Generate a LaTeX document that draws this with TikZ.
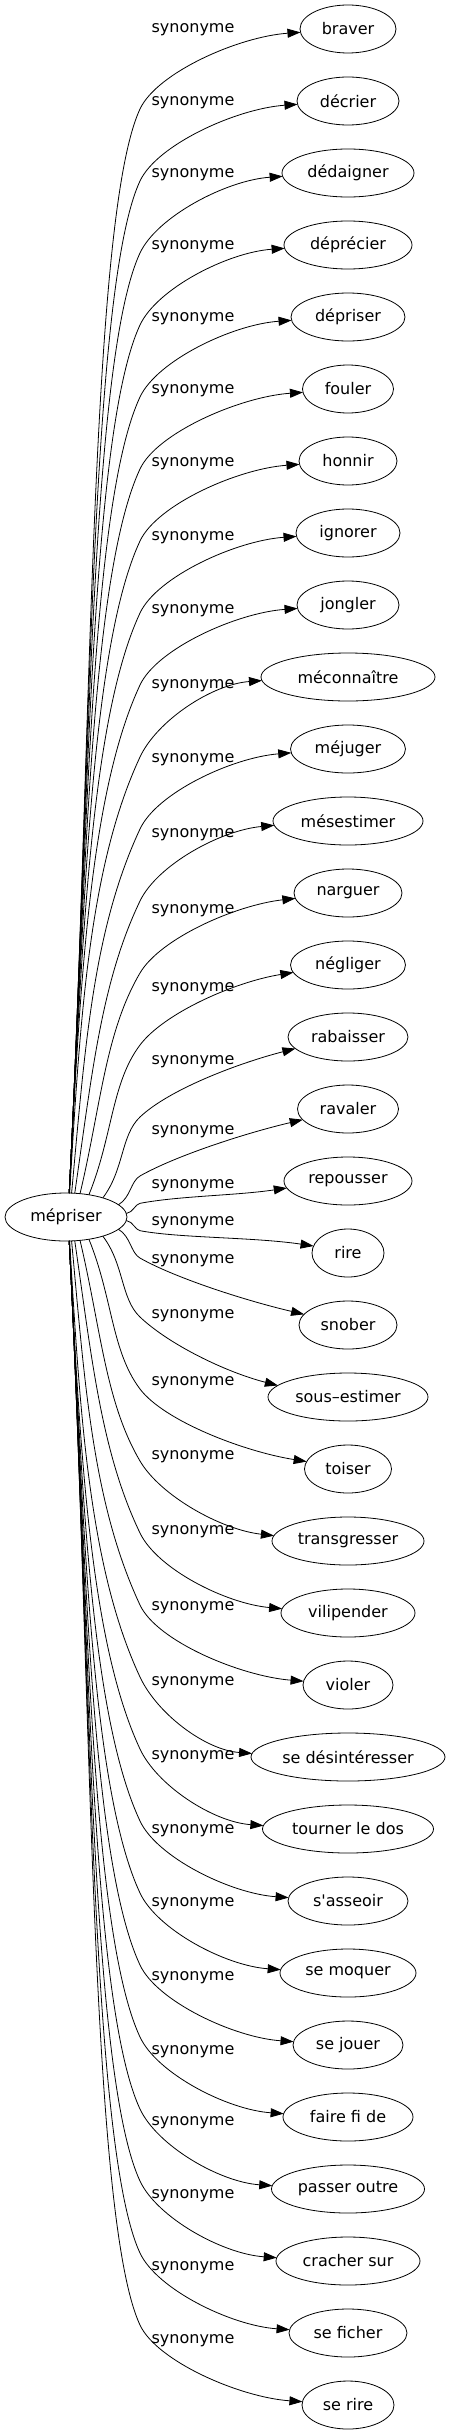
\documentclass[tikz,border=0pt]{standalone}
\usepackage{fontspec}
\setmainfont{DejaVu Sans}
\usetikzlibrary{arrows.meta,shapes.geometric}

\begin{document}
\begin{tikzpicture}[x=1pt,y=-1pt,>={Triangle[length=13pt,width=9pt]},
  word/.style={draw,line width=0.8pt,ellipse,inner sep=0pt,minimum height=48pt,
    font=\fontsize{16}{19}\selectfont},
  rel/.style={font=\fontsize{16}{19}\selectfont}]
  \useasboundingbox (0,0) rectangle (451,2435);
  % source word
  \node[word,minimum width=122pt] (mepriser) at (66,1217) {mépriser};
  % synonyms: index/name/text/label y/ellipse width
  \foreach \i/\nm/\txt/\ly/\w in {
    0/braver/braver/30/96, 1/decrier/décrier/103/102,
    2/dedaigner/dédaigner/175/132, 3/deprecier/déprécier/247/128,
    4/depriser/dépriser/319/114, 5/fouler/fouler/391/91,
    6/honnir/honnir/464/98, 7/ignorer/ignorer/538/104,
    8/jongler/jongler/611/102, 9/meconnaitre/méconnaître/686/174,
    10/mejuger/méjuger/760/115, 11/mesestimer/mésestimer/835/150,
    12/narguer/narguer/911/108, 13/negliger/négliger/989/115,
    14/rabaisser/rabaisser/1062/120, 15/ravaler/ravaler/1132/101,
    16/repousser/repousser/1186/128, 17/rire/rire/1223/72,
    18/snober/snober/1261/98, 19/sousestimer/sous–estimer/1316/160,
    20/toiser/toiser/1383/87, 21/transgresser/transgresser/1457/152,
    22/vilipender/vilipender/1532/134, 23/violer/violer/1608/90,
    24/sedesinteresser/se désintéresser/1683/194,
    25/tournerledos/tourner le dos/1757/171,
    26/sasseoir/s\textquotesingle asseoir/1831/120,
    27/semoquer/se moquer/1904/136, 28/sejouer/se jouer/1978/110,
    29/fairefide/faire fi de/2052/130, 30/passeroutre/passer outre/2123/153,
    31/crachersur/cracher sur/2196/144, 32/seficher/se ficher/2268/118,
    33/serire/se rire/2341/92}{
    \pgfmathsetmacro\ty{29+72*\i}
    \pgfmathsetmacro\dlt{1217-\ty}
    \pgfmathsetmacro\sgn{sign(\dlt)}
    \pgfmathsetmacro\adl{abs(\dlt)}
    % leaving angle, bend point and arrival angle
    \pgfmathsetmacro\oa{\sgn*min(87,90-atan(280*exp(-\adl/250)/\adl))}
    \pgfmathsetmacro\ky{\ty+\sgn*min(80,0.62*\adl)}
    \pgfmathsetmacro\ph{\sgn*min(65,atan(\adl/190))}
    \pgfmathsetmacro\tht{4+14*exp(max(-8,-abs(\adl-150)/100))}
    \pgfmathsetmacro\ia{180+\sgn*\tht}
    % end points on the two ellipses
    \pgfmathsetmacro\sx{61*cos(\oa)}
    \pgfmathsetmacro\sy{-24*sin(\oa)}
    \pgfmathsetmacro\tx{-\w/2*cos(2*\tht)}
    \pgfmathsetmacro\tyy{24*\sgn*sin(2*\tht)}
    % pull of the control points
    \pgfmathsetmacro\lena{veclen(140-66-\sx,\ky-1217-\sy)}
    \pgfmathsetmacro\lenb{veclen(348+\tx-140,\ty+\tyy-\ky)}
    \pgfmathsetmacro\ca{0.4*\lena}
    \pgfmathsetmacro\cb{min(120,0.3*\lena)}
    \pgfmathsetmacro\cc{min(40,0.3*\lenb)}
    \pgfmathsetmacro\cd{0.35*\lenb}
    \node[word,minimum width=\w pt] (\nm) at (348,\ty) {\txt};
    \node[rel] (lab\nm) at (193,\ly) {synonyme};
    \coordinate (bend\nm) at (140,\ky);
    \draw[->,line width=0.8pt] ([shift={(\sx,\sy)}]mepriser.center)
      .. controls +(\oa:\ca pt) and +(\ph+180:\cb pt) .. (bend\nm)
      .. controls +(\ph:\cc pt) and +(\ia:\cd pt) .. ([shift={(\tx,\tyy)}]\nm.center);
  }
\end{tikzpicture}
\end{document}
